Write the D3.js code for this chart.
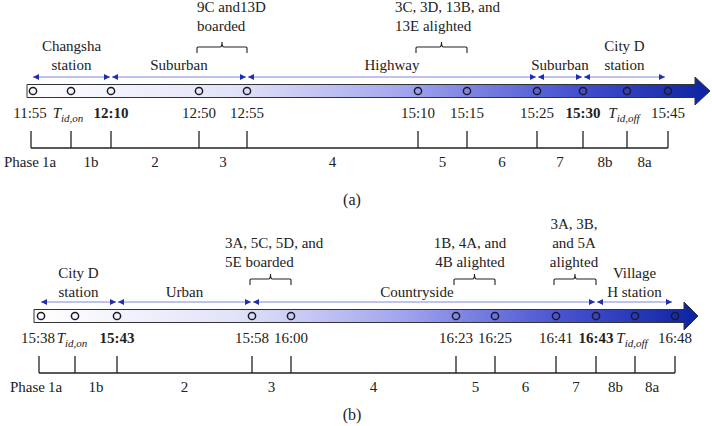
<!DOCTYPE html>
<html><head><meta charset="utf-8">
<script src="https://cdn.jsdelivr.net/npm/d3@7/dist/d3.min.js"></script>
<style>
body{margin:0;background:#fff;}
svg text{font-family:"Liberation Serif","Times New Roman",serif;font-size:15px;fill:#222;}
</style></head>
<body><svg id="c" width="712" height="426"></svg>
<script>
// ---------- DATA ----------
// Panel (a)
const aStops = [33, 71, 111, 199, 247, 418, 467, 537, 583, 627, 668]; // schematic positions (units)
const aTimes = ["11:55", "Tid,on", "12:10", "12:50", "12:55", "15:10", "15:15", "15:25", "15:30", "Tid,off", "15:45"];
const aBold = [false, false, true, false, false, false, false, false, true, false, false];
const aPhases = ["1a", "1b", "2", "3", "4", "5", "6", "7", "8b", "8a"];
const aRegions = [
  {from: 0, to: 2, lines: ["Changsha", "station"]},
  {from: 2, to: 4, lines: ["Suburban"]},
  {from: 4, to: 7, lines: ["Highway"]},
  {from: 7, to: 8, lines: ["Suburban"]},
  {from: 8, to: 10, lines: ["City D", "station"]}
];
const aBraces = [
  {from: 3, to: 4, lines: ["9C and13D", "boarded"], anchor: "start", tx: 197},
  {from: 5, to: 6, lines: ["3C, 3D, 13B, and", "13E alighted"], anchor: "start", tx: 395}
];
// Panel (b)
const bStops = [41, 75, 117, 252, 291, 456, 495, 556, 596, 635, 675];
const bTimes = ["15:38", "Tid,on", "15:43", "15:58", "16:00", "16:23", "16:25", "16:41", "16:43", "Tid,off", "16:48"];
const bBold = [false, false, true, false, false, false, false, false, true, false, false];
const bPhases = ["1a", "1b", "2", "3", "4", "5", "6", "7", "8b", "8a"];
const bRegions = [
  {from: 0, to: 2, lines: ["City D", "station"]},
  {from: 2, to: 3, lines: ["Urban"]},
  {from: 3, to: 8, lines: ["Countryside"], dx: -7},
  {from: 8, to: 10, lines: ["Village", "H station"]}
];
const bBraces = [
  {from: 3, to: 4, lines: ["3A, 5C, 5D, and", "5E boarded"], anchor: "start", tx: 225},
  {from: 5, to: 6, lines: ["1B, 4A, and", "4B alighted"], anchor: "middle", tx: 470},
  {from: 7, to: 8, lines: ["3A, 3B,", "and 5A", "alighted"], anchor: "middle", tx: 574}
];

// ---------- DRAW ----------
const svg = d3.select("#c");
const x = d3.scaleLinear().domain([0, 712]).range([0, 712]);

const defs = svg.append("defs");
const grad = defs.append("linearGradient").attr("id", "g").attr("x1", "0").attr("x2", "1").attr("y1", "0").attr("y2", "0");
[[0, "#ffffff"], [0.3, "#e3e3f9"], [0.55, "#a3a6ee"], [0.8, "#4651cf"], [1, "#0c23a2"]]
  .forEach(([o, c]) => grad.append("stop").attr("offset", o).attr("stop-color", c));

function panel(cfg) {
  const g = svg.append("g").attr("transform", `translate(0,${cfg.dy})`);
  const stops = cfg.stops;
  const yBar = 91, barH = 13;
  // arrow body + head
  const x0 = x(cfg.barStart), xb = x(cfg.bodyEnd), xt = x(cfg.tip);
  const path = `M${x0},${yBar - barH / 2}H${xb}V${yBar - 14}L${xt},${yBar}L${xb},${yBar + 14}V${yBar + barH / 2}H${x0}Z`;
  g.append("path").attr("d", path).attr("fill", `url(#g)`).attr("stroke", "#333").attr("stroke-width", 1);
  // circles
  g.selectAll("circle").data(stops).join("circle")
    .attr("cx", d => x(d)).attr("cy", yBar).attr("r", 3.6)
    .attr("fill", "none").attr("stroke", "#1a1a2a").attr("stroke-width", 1.5);
  // time labels
  const tl = g.selectAll("text.time").data(cfg.times).join("text").attr("class", "time")
    .attr("x", (d, i) => x(stops[i]) + (i === 0 ? -3 : 0) + (d.startsWith("T") ? -3 : 0))
    .attr("y", 118).attr("text-anchor", "middle")
    .style("font-weight", (d, i) => cfg.bold[i] ? "bold" : "normal");
  tl.each(function (d) {
    const t = d3.select(this);
    if (d.startsWith("T")) {
      t.append("tspan").text("T").style("font-style", "italic");
      t.append("tspan").text(d.slice(1)).style("font-style", "italic").style("font-size", "11px").attr("dy", 4);
    } else t.text(d);
  });
  // phase axis
  const pY0 = 131, pY1 = 148;
  g.append("line").attr("x1", x(stops[0]) - 2).attr("x2", x(stops[stops.length - 1])).attr("y1", pY1).attr("y2", pY1)
    .attr("stroke", "#222").attr("stroke-width", 1.3);
  g.selectAll("line.tick").data(stops).join("line").attr("class", "tick")
    .attr("x1", (d, i) => x(d) - (i === 0 ? 2 : 0)).attr("x2", (d, i) => x(d) - (i === 0 ? 2 : 0))
    .attr("y1", pY0).attr("y2", pY1).attr("stroke", "#222").attr("stroke-width", 1.3);
  g.selectAll("text.phase").data(cfg.phases).join("text").attr("class", "phase")
    .attr("x", (d, i) => x((stops[i] + stops[i + 1]) / 2) - (i === 0 ? 3 : 0) - (i === 9 ? 3 : 0))
    .attr("y", 167).attr("text-anchor", "middle").text(d => d);
  g.append("text").attr("x", x((stops[0] + stops[1]) / 2) - 13).attr("y", 167).attr("text-anchor", "end").text("Phase");
  // region arrows
  const yR = 77;
  cfg.regions.forEach(r => {
    const xa = x(stops[r.from]) + (r.from === 0 ? 0 : 1), xz = x(stops[r.to]) - (r.to === stops.length - 1 ? 3 : 1);
    g.append("line").attr("x1", xa).attr("x2", xz).attr("y1", yR).attr("y2", yR).attr("stroke", "#7e86da").attr("stroke-width", 1);
    g.append("path").attr("d", `M${xa},${yR}l6,-3v6z`).attr("fill", "#1f2fb0");
    g.append("path").attr("d", `M${xz},${yR}l-6,-3v6z`).attr("fill", "#1f2fb0");
    const cx = (xa + xz) / 2 + (r.dx || 0);
    r.lines.forEach((l, k) => {
      g.append("text").attr("x", cx).attr("y", cfg.regionY - (r.lines.length - 1 - k) * 19).attr("text-anchor", "middle").text(l);
    });
  });
  // braces
  const yB = cfg.braceY;
  cfg.braces.forEach(b => {
    const x1 = x(stops[b.from]) - 2, x2 = x(stops[b.to]), xm = (x1 + x2) / 2;
    g.append("path").attr("d", `M${x1},${yB + 6}V${yB + 1}Q${x1},${yB} ${x1 + 1},${yB}H${xm - 2}Q${xm},${yB} ${xm},${yB - 5}Q${xm},${yB} ${xm + 2},${yB}H${x2 - 1}Q${x2},${yB} ${x2},${yB + 1}V${yB + 6}`)
      .attr("fill", "none").attr("stroke", "#222").attr("stroke-width", 1.1);
    b.lines.forEach((l, k) => {
      g.append("text").attr("x", b.tx).attr("y", cfg.braceTextY - (b.lines.length - 1 - k) * 19)
        .attr("text-anchor", b.anchor).text(l);
    });
  });
  // panel label
  svg.append("text").attr("x", 352).attr("y", cfg.labelY).attr("text-anchor", "middle").style("font-size", "16px").text(cfg.label);
}

panel({dy: 0, stops: aStops, times: aTimes, bold: aBold, phases: aPhases, regions: aRegions, braces: aBraces,
  barStart: 27, bodyEnd: 695, tip: 710, braceY: 47, braceTextY: 31, regionY: 70, label: "(a)", labelY: 205});
panel({dy: 225, stops: bStops, times: bTimes, bold: bBold, phases: bPhases, regions: bRegions, braces: bBraces,
  barStart: 34, bodyEnd: 684, tip: 698, braceY: 54, braceTextY: 42, regionY: 72, label: "(b)", labelY: 420});
</script></body></html>
